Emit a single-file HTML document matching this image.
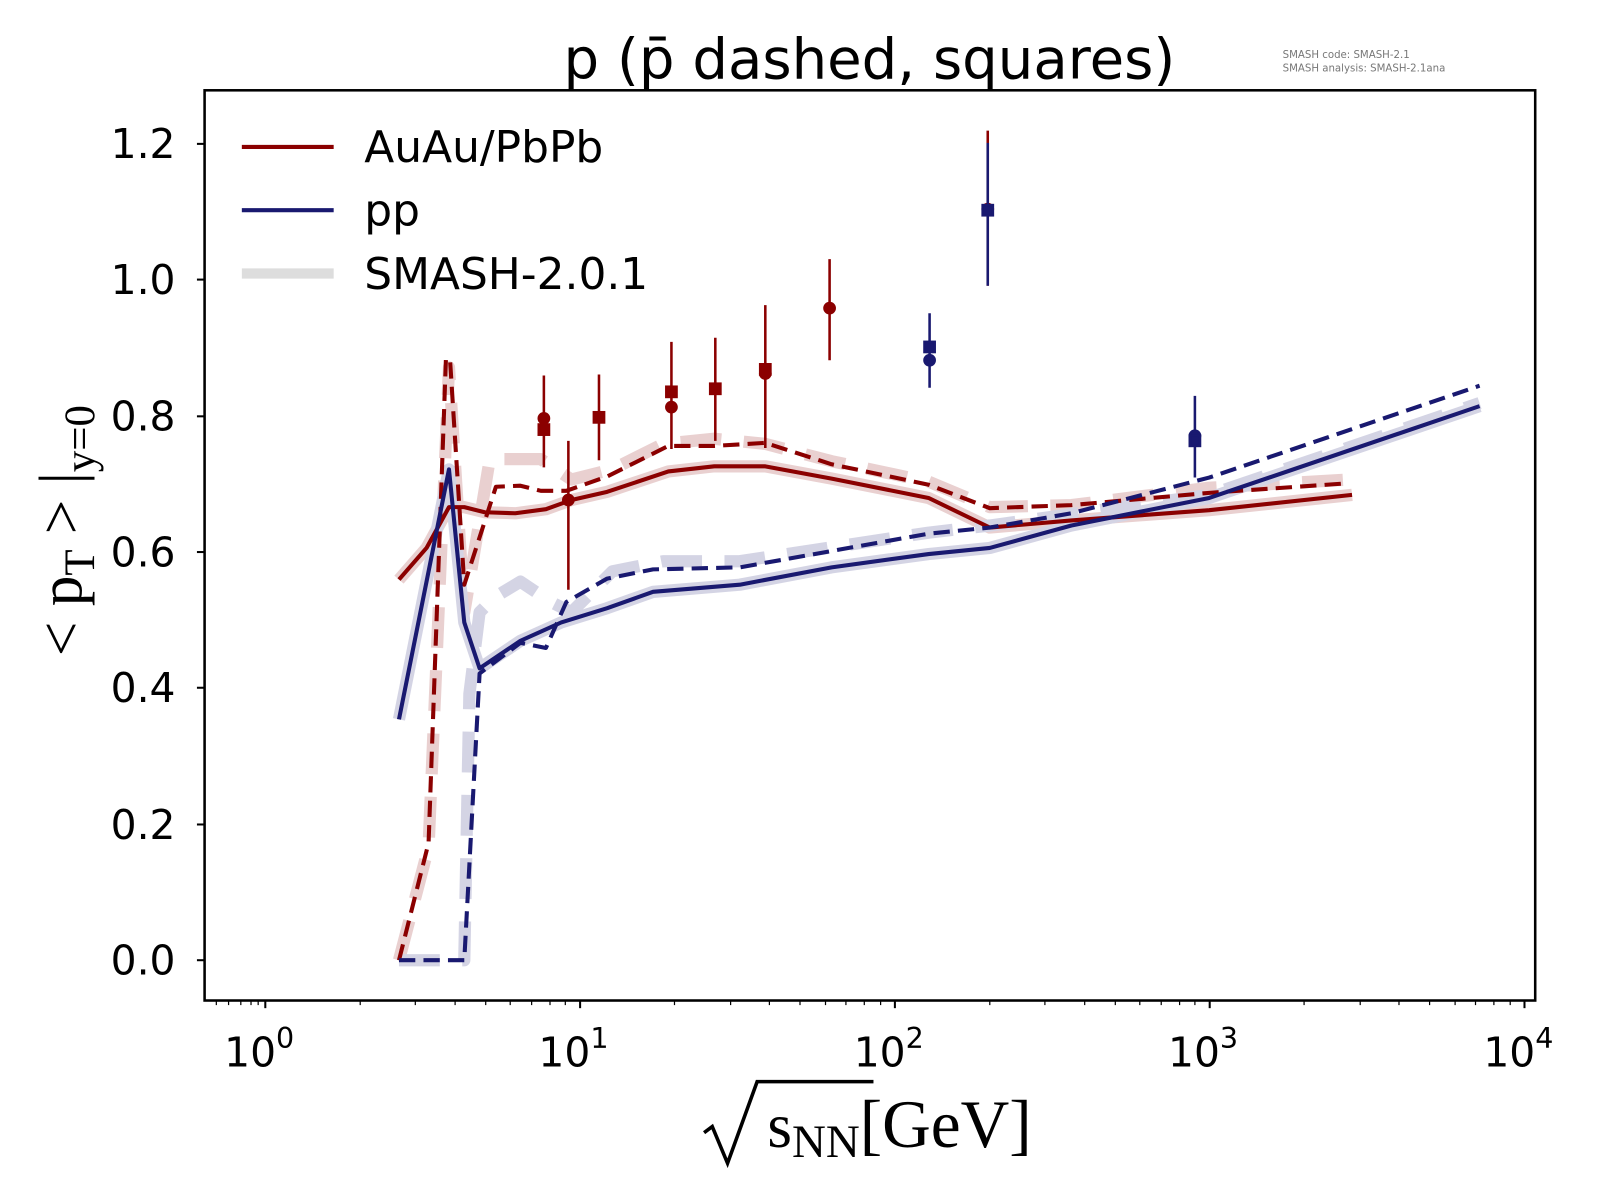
<!DOCTYPE html>
<html><head><meta charset="utf-8"><style>
html,body{margin:0;padding:0;background:#fff;}
svg{display:block;}
text{font-family:"DejaVu Sans","Liberation Sans",sans-serif;}
</style></head><body>
<svg width="1600" height="1200" viewBox="0 0 1568 1176" xmlns="http://www.w3.org/2000/svg">
<rect width="1568" height="1176" fill="#fff"/>
<text x="852" y="77" font-size="55" text-anchor="middle">p (p̄ dashed, squares)</text>
<text x="1257" y="57" font-size="10" fill="#777">SMASH code:      SMASH-2.1</text>
<text x="1257" y="70" font-size="10" fill="#777">SMASH analysis: SMASH-2.1ana</text>

<g fill="none" stroke-width="12" stroke-linejoin="round" opacity="0.18">
<polyline stroke="#8b0000" points="391,568 418,537 440,497 455,497 475,502 505,503 535,499 560,490 595,482 655,462 700,457 750,457 815,469 910,488 970,517 1050,510 1185,500 1325,485"/>
<polyline stroke="#8b0000" stroke-dasharray="40,22" points="391,941 420,830 440,360 455,600 480,450 530,450 560,470 600,460 650,435 700,430 750,435 815,452 910,472 970,497 1050,495 1185,478 1320,470"/>
<polyline stroke="#191970" points="391,705 440,460 455,610 470,655 510,628 550,610 595,596 640,580 725,573 815,556 910,543 970,537 1050,515 1185,488 1450,398"/>
<polyline stroke="#191970" stroke-dasharray="40,22" points="391,941 455,941 460,680 470,600 485,585 510,570 540,590 560,600 600,560 650,550 725,550 910,522 970,515 1185,485 1450,395"/>
</g>

<g fill="none" stroke-width="4" stroke-linejoin="round">
<polyline stroke="#8b0000" points="391,568 418,537 440,497 455,497 475,502 505,503 535,499 560,490 595,482 655,462 700,457 750,457 815,469 910,488 970,517 1050,510 1185,500 1325,485"/>
<polyline stroke="#8b0000" stroke-dasharray="16,8" points="391,941 420,826 437,352 441,352 455,573 486,477 510,476 530,481 555,481 595,467 655,437 700,437 750,434 815,455 910,475 970,498 1050,495 1185,483 1315,474"/>
<polyline stroke="#191970" points="391,705 440,460 455,610 470,655 510,628 550,610 595,596 640,580 725,573 815,556 910,543 970,537 1050,515 1185,488 1450,398"/>
<polyline stroke="#191970" stroke-dasharray="16,8" points="391,941 455,941 470,660 510,630 535,635 555,590 595,567 640,558 725,556 815,540 910,523 970,517 1050,503 1185,468 1450,378"/>
</g>

<g stroke="#8b0000" stroke-width="2.5" fill="#8b0000">
<line x1="533" y1="368" x2="533" y2="458"/><circle cx="533" cy="410" r="5"/><rect x="528" y="416" width="10" height="10"/>
<line x1="557" y1="432" x2="557" y2="578"/><circle cx="557" cy="490" r="5"/>
<line x1="587" y1="367" x2="587" y2="451"/><rect x="582" y="404" width="10" height="10"/>
<line x1="658" y1="335" x2="658" y2="440"/><rect x="653" y="379" width="10" height="10"/><circle cx="658" cy="399" r="5"/>
<line x1="701" y1="331" x2="701" y2="432"/><rect x="696" y="376" width="10" height="10"/>
<line x1="750" y1="299" x2="750" y2="439"/><rect x="745" y="357" width="10" height="10"/><circle cx="750" cy="366" r="5"/>
<line x1="813" y1="254" x2="813" y2="353"/><circle cx="813" cy="302" r="5"/>
<line x1="968" y1="128" x2="968" y2="280"/><circle cx="968" cy="205" r="5"/>
</g>
<g stroke="#191970" stroke-width="2.5" fill="#191970">
<line x1="911" y1="307" x2="911" y2="380"/><rect x="906" y="335" width="10" height="10"/><circle cx="911" cy="353" r="5"/>
<line x1="968" y1="140" x2="968" y2="280"/><rect x="963" y="201" width="10" height="10"/>
<line x1="1171" y1="388" x2="1171" y2="468"/><circle cx="1171" cy="427" r="5"/><rect x="1166" y="427" width="10" height="10"/>
</g>

<rect x="200.5" y="88.5" width="1304" height="892" fill="none" stroke="#000" stroke-width="2.5"/>
<g stroke="#000" stroke-width="2">
<line x1="193" y1="941" x2="200" y2="941"/><line x1="193" y1="808" x2="200" y2="808"/>
<line x1="193" y1="674" x2="200" y2="674"/><line x1="193" y1="541" x2="200" y2="541"/>
<line x1="193" y1="408" x2="200" y2="408"/><line x1="193" y1="274" x2="200" y2="274"/>
<line x1="193" y1="141" x2="200" y2="141"/>
</g>
<g font-size="40" text-anchor="end">
<text x="172" y="955">0.0</text><text x="172" y="822">0.2</text><text x="172" y="688">0.4</text>
<text x="172" y="555">0.6</text><text x="172" y="422">0.8</text><text x="172" y="288">1.0</text><text x="172" y="155">1.2</text>
</g>
<g stroke="#000" stroke-width="2">
<line x1="260" y1="980" x2="260" y2="988"/><line x1="568.5" y1="980" x2="568.5" y2="988"/>
<line x1="877" y1="980" x2="877" y2="988"/><line x1="1185.5" y1="980" x2="1185.5" y2="988"/>
<line x1="1494" y1="980" x2="1494" y2="988"/>
</g>
<g stroke="#000" stroke-width="1.2">
<line x1="212" y1="980" x2="212" y2="985"/><line x1="224" y1="980" x2="224" y2="985"/><line x1="236" y1="980" x2="236" y2="985"/><line x1="246" y1="980" x2="246" y2="985"/><line x1="253" y1="980" x2="253" y2="985"/>
<line x1="353" y1="980" x2="353" y2="985"/><line x1="407" y1="980" x2="407" y2="985"/><line x1="446" y1="980" x2="446" y2="985"/><line x1="476" y1="980" x2="476" y2="985"/><line x1="500" y1="980" x2="500" y2="985"/><line x1="521" y1="980" x2="521" y2="985"/><line x1="539" y1="980" x2="539" y2="985"/><line x1="554" y1="980" x2="554" y2="985"/>
<line x1="661" y1="980" x2="661" y2="985"/><line x1="716" y1="980" x2="716" y2="985"/><line x1="754" y1="980" x2="754" y2="985"/><line x1="784" y1="980" x2="784" y2="985"/><line x1="809" y1="980" x2="809" y2="985"/><line x1="829" y1="980" x2="829" y2="985"/><line x1="847" y1="980" x2="847" y2="985"/><line x1="863" y1="980" x2="863" y2="985"/>
<line x1="970" y1="980" x2="970" y2="985"/><line x1="1024" y1="980" x2="1024" y2="985"/><line x1="1063" y1="980" x2="1063" y2="985"/><line x1="1093" y1="980" x2="1093" y2="985"/><line x1="1117" y1="980" x2="1117" y2="985"/><line x1="1138" y1="980" x2="1138" y2="985"/><line x1="1156" y1="980" x2="1156" y2="985"/><line x1="1171" y1="980" x2="1171" y2="985"/>
<line x1="1278" y1="980" x2="1278" y2="985"/><line x1="1333" y1="980" x2="1333" y2="985"/><line x1="1371" y1="980" x2="1371" y2="985"/><line x1="1401" y1="980" x2="1401" y2="985"/><line x1="1426" y1="980" x2="1426" y2="985"/><line x1="1446" y1="980" x2="1446" y2="985"/><line x1="1464" y1="980" x2="1464" y2="985"/><line x1="1480" y1="980" x2="1480" y2="985"/>
</g>
<g font-size="40" text-anchor="middle">
<text x="254" y="1045">10<tspan font-size="28" dy="-18">0</tspan></text>
<text x="562" y="1045">10<tspan font-size="28" dy="-18">1</tspan></text>
<text x="871" y="1045">10<tspan font-size="28" dy="-18">2</tspan></text>
<text x="1179" y="1045">10<tspan font-size="28" dy="-18">3</tspan></text>
<text x="1488" y="1045">10<tspan font-size="28" dy="-18">4</tspan></text>
</g>
<polyline points="690,1110 698,1104 713,1140 742,1060 856,1060" fill="none" stroke="#000" stroke-width="3.5"/>
<text x="752" y="1124" font-size="62" style="font-family:'Liberation Serif',serif">s<tspan font-size="46" dy="10">NN</tspan><tspan font-size="66" dy="-10">[GeV]</tspan></text>
<text transform="translate(80,520) rotate(-90)" text-anchor="middle" font-size="60" style="font-family:'Liberation Serif',serif">&lt; p<tspan font-size="42" dy="12">T</tspan><tspan dy="-12"> &gt; |</tspan><tspan font-size="42" dy="12">y=0</tspan></text>

<line x1="237" y1="144" x2="327" y2="144" stroke="#8b0000" stroke-width="4"/>
<line x1="237" y1="206" x2="327" y2="206" stroke="#191970" stroke-width="4"/>
<line x1="237" y1="268" x2="327" y2="268" stroke="#ddd" stroke-width="10"/>
<g font-size="43">
<text x="357" y="159">AuAu/PbPb</text>
<text x="357" y="221">pp</text>
<text x="357" y="283">SMASH-2.0.1</text>
</g>
</svg>
</body></html>
